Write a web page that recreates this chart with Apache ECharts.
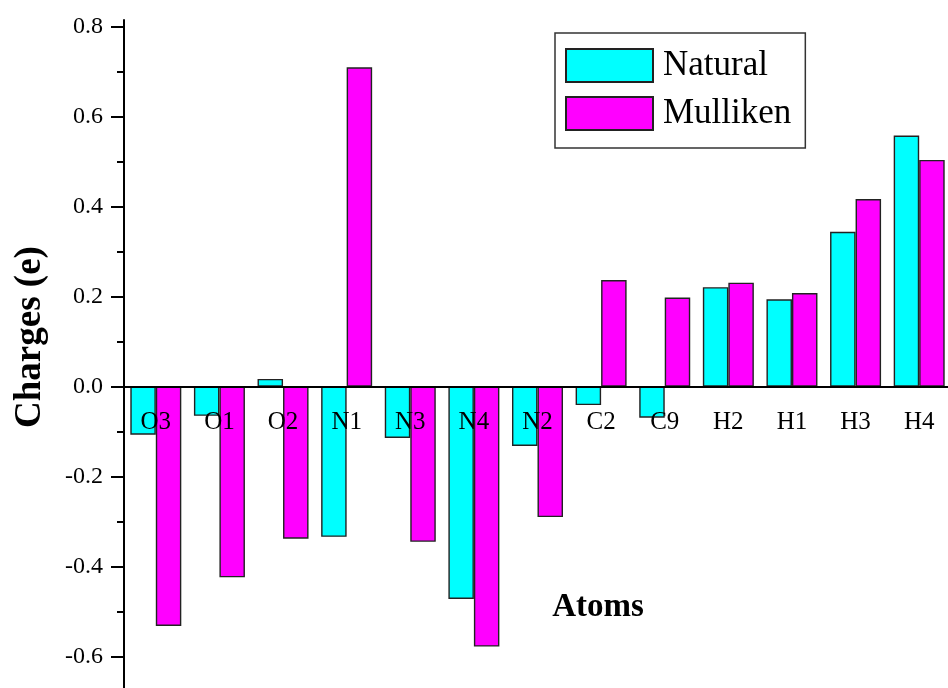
<!DOCTYPE html>
<html>
<head>
<meta charset="utf-8">
<script src="https://cdn.jsdelivr.net/npm/echarts@6/dist/echarts.min.js"></script>
<style>
html,body{margin:0;padding:0;background:#fff;overflow:hidden;}
#c{width:952px;height:688px;}
</style>
</head>
<body>
<div id="c"></div>
<script>
const categories = ['O3','O1','O2','N1','N3','N4','N2','C2','C9','H2','H1','H3','H4'];
const naturalCharges = [-0.107,-0.065,0.017,-0.334,-0.114,-0.472,-0.132,-0.041,-0.069,0.221,0.194,0.344,0.558];
const mullikenCharges = [-0.532,-0.424,-0.338,0.710,-0.345,-0.578,-0.290,0.237,0.198,0.231,0.208,0.417,0.504];
const yMajorTicks = [-0.6,-0.4,-0.2,0,0.2,0.4,0.6,0.8];
const yMinorTicks = [-0.5,-0.3,-0.1,0.1,0.3,0.5,0.7];

const FONT = '"Liberation Serif","Times New Roman",serif';
const chart = echarts.init(document.getElementById('c'), null, {renderer:'canvas'});
const GRID_LEFT = 124, GRID_RIGHT = 1, GRID_TOP = 20, GRID_BOTTOM = 0, W = 952, H = 688;
const gridWidth = W - GRID_LEFT - GRID_RIGHT;
const gridHeight = H - GRID_TOP - GRID_BOTTOM;
const YMIN = -0.67, YMAX = 0.815;
// pixel distance of the zero line from grid edges (axis placement only)
const zeroFromTop = (YMAX - 0) / (YMAX - YMIN) * gridHeight;
const zeroFromBottom = gridHeight - zeroFromTop;

chart.setOption({
  animation:false,
  backgroundColor:'#fff',
  grid:{left:GRID_LEFT,right:GRID_RIGHT,top:GRID_TOP,bottom:GRID_BOTTOM,containLabel:false,outerBoundsMode:'none'},
  legend:{
    data:['Natural','Mulliken'],
    orient:'vertical',
    left:555, top:33,
    padding:[15,14,17,10],
    itemGap:13,
    itemWidth:87, itemHeight:33,
    borderColor:'#333', borderWidth:1.5,
    backgroundColor:'#fff',
    icon:'rect',
    textStyle:{fontFamily:FONT,fontSize:35,color:'#000',padding:[0,0,0,5]}
  },
  xAxis:[{
    type:'category', data:categories, position:'bottom', offset:-zeroFromBottom, z:10,
    axisLine:{onZero:false,lineStyle:{color:'#000',width:2}},
    axisTick:{alignWithLabel:true,length:13,lineStyle:{color:'#000',width:2}},
    axisLabel:{fontFamily:FONT,fontSize:25,color:'#000',margin:23},
    splitLine:{show:false}
  },{
    type:'category', data:categories, position:'top', offset:-zeroFromTop, z:10,
    axisLine:{show:false,onZero:false},
    axisTick:{inside:true,alignWithLabel:false,length:6,lineStyle:{color:'#000',width:2}},
    axisLabel:{show:false},
    splitLine:{show:false}
  }],
  yAxis:[{
    type:'value', min:YMIN, max:YMAX, position:'left',
    axisLine:{show:true,onZero:false,lineStyle:{color:'#000',width:2}},
    axisTick:{show:true,length:13,customValues:yMajorTicks,lineStyle:{color:'#000',width:2}},
    axisLabel:{customValues:yMajorTicks,fontFamily:FONT,fontSize:24,color:'#000',margin:21,
      formatter:v=>v.toFixed(1)},
    splitLine:{show:false}
  },{
    type:'value', min:YMIN, max:YMAX, position:'right', offset:-gridWidth,
    axisLine:{show:false,onZero:false},
    axisTick:{show:true,inside:true,length:7,customValues:yMinorTicks,lineStyle:{color:'#000',width:2}},
    axisLabel:{show:false},
    splitLine:{show:false}
  }],
  series:[{
    name:'Natural', type:'bar', data:naturalCharges, xAxisIndex:0, yAxisIndex:0,
    barWidth:25.5, barGap:'0%',
    itemStyle:{color:'#00ffff',borderColor:'#222',borderWidth:1.4}
  },{
    name:'Mulliken', type:'bar', data:mullikenCharges, xAxisIndex:0, yAxisIndex:0,
    barWidth:25.5, barGap:'0%',
    itemStyle:{color:'#ff00ff',borderColor:'#222',borderWidth:1.4}
  }],
  graphic:[{
    type:'text', x:30, y:337, rotation:Math.PI/2,
    style:{text:'Charges (e)',fontFamily:FONT,fontSize:37,fontWeight:'bold',fill:'#000',align:'center',verticalAlign:'middle'}
  },{
    type:'text', x:598, y:607,
    style:{text:'Atoms',fontFamily:FONT,fontSize:33,fontWeight:'bold',fill:'#000',align:'center',verticalAlign:'middle'}
  }]
});
</script>
</body>
</html>
